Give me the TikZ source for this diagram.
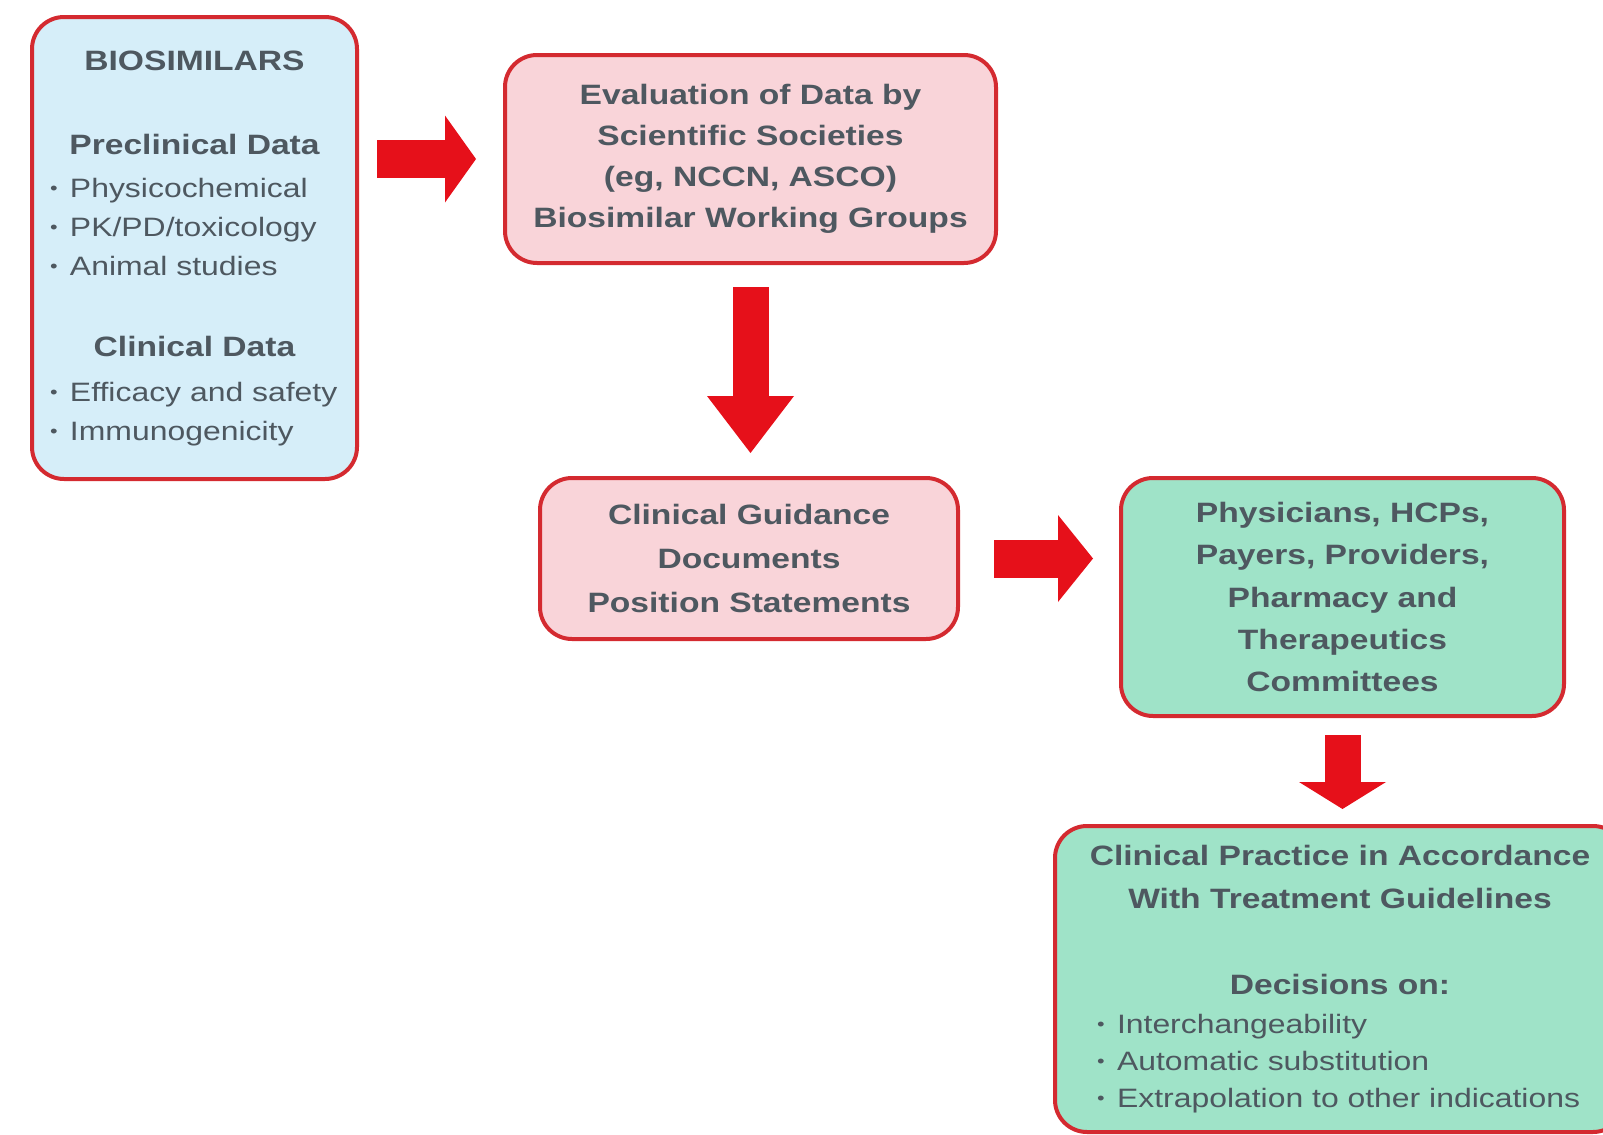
\documentclass[tikz,border=0pt]{standalone}
\usepackage{fontspec}
\setmainfont{Liberation Sans}[FakeStretch=1.2]
\usetikzlibrary{arrows.meta}
\usetikzlibrary{calc}
\usetikzlibrary{positioning}

\definecolor{boxred}{RGB}{212,42,48}
\definecolor{arrowred}{RGB}{230,16,26}
\definecolor{bioblue}{RGB}{214,238,249}
\definecolor{societypink}{RGB}{249,212,217}
\definecolor{practicegreen}{RGB}{159,227,200}
\definecolor{textgray}{RGB}{78,88,96}

\newcommand*\bitem[2][144.5pt]{\makebox[#1][l]{\fontsize{13.3}{19.5}\selectfont
            \makebox[10pt][l]{\raisebox{1.5pt}{\fontsize{9}{9}\selectfont\textbullet}}#2}}
\newcommand*\headline[1]{{\fontsize{14}{19.5}\selectfont\bfseries #1}}

\begin{document}
\begin{tikzpicture}[x=0.5pt, y=-0.5pt,
    flowbox/.style={draw=boxred, line width=2pt, rounded corners=16pt, align=center, text=textgray, inner sep=0pt},
    bigarrow/.style={draw=arrowred, line width=19pt, -{Triangle[width=43.5pt, length=#1, line width=0pt]}}]

    \clip (0,0) rectangle (1603,1135);

    % Define nodes
    \node (bio) [flowbox, fill=bioblue, minimum width=162.5pt, minimum height=231pt,
        font=\fontsize{13.3}{19.5}\selectfont] at (194.5,248)
        {\headline{BIOSIMILARS}\\[22.5pt]
         \headline{Preclinical Data}\\[2pt]
         \bitem{Physicochemical}\\
         \bitem{PK/PD/toxicology}\\
         \bitem{Animal studies}\\[21pt]
         \headline{Clinical Data}\\[3pt]
         \bitem{Efficacy and safety}\\
         \bitem{Immunogenicity}};

    \node (eval) [flowbox, fill=societypink, minimum width=245.5pt, minimum height=104pt,
        font=\fontsize{14}{20.5}\selectfont\bfseries] at (750.5,159)
        {Evaluation of Data by\\ Scientific Societies\\ (eg, NCCN, ASCO)\\ Biosimilar Working Groups};

    \node (guide) [flowbox, fill=societypink, minimum width=209pt, minimum height=80.5pt,
        font=\fontsize{14}{22}\selectfont\bfseries] at (749,558.5)
        {Clinical Guidance\\ Documents\\ Position Statements};

    \node (phys) [flowbox, fill=practicegreen, minimum width=221.5pt, minimum height=119pt,
        font=\fontsize{14}{21.2}\selectfont\bfseries] at (1342.5,597)
        {Physicians, HCPs,\\ Payers, Providers,\\ Pharmacy and\\ Therapeutics\\ Committees};

    \node (prac) [flowbox, fill=practicegreen, minimum width=285pt, minimum height=153pt,
        font=\fontsize{14}{21.5}\selectfont] at (1340,979)
        {{\bfseries Clinical Practice in Accordance}\\
         {\bfseries With Treatment Guidelines}\\[21.5pt]
         {\bfseries Decisions on:}\\[-2pt]
         \bitem[243pt]{Interchangeability}\\[-3pt]
         \bitem[243pt]{Automatic substitution}\\[-3pt]
         \bitem[243pt]{Extrapolation to other indications}};

    % Draw arrows
    \draw[bigarrow=15.5pt, shorten <=9pt, shorten >=13.5pt] (bio.east |- eval.west) -- (eval.west);
    \draw[bigarrow=28.5pt, line width=18pt, shorten <=11pt, shorten >=11.5pt] (eval.south) -- (eval.south |- guide.north);
    \draw[bigarrow=17.5pt, shorten <=17pt, shorten >=13pt] (guide.east) -- (phys.west |- guide.east);
    \draw[bigarrow=13.5pt, line width=18pt, shorten <=8.5pt, shorten >=7.5pt] (phys.south) -- (phys.south |- prac.north);

\end{tikzpicture}
\end{document}
